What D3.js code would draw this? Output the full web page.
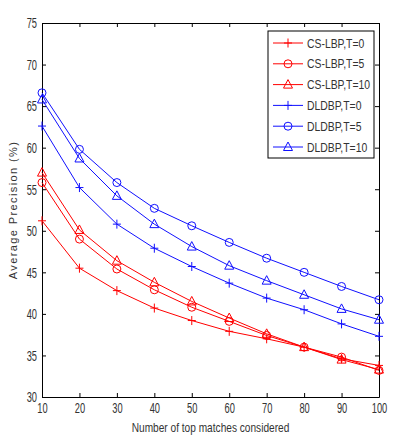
<!DOCTYPE html>
<html>
<head>
<meta charset="utf-8">
<script src="https://cdn.jsdelivr.net/npm/d3@7"></script>
<style>
  body { margin: 0; background: #fff; }
  svg text { font-family: "Liberation Sans", Arial, sans-serif; fill: #333; }
</style>
</head>
<body>
<svg id="chart" width="397" height="442"></svg>
<script>
// x values (number of top matches)
const topMatches = [10, 20, 30, 40, 50, 60, 70, 80, 90, 100];

// series values
const csLbpT0 = [51.2, 45.5, 42.8, 40.7, 39.2, 37.9, 37.0, 36.0, 34.6, 33.8];
const csLbpT5 = [55.8, 49.0, 45.4, 42.9, 40.8, 39.1, 37.4, 36.0, 34.8, 33.2];
const csLbpT10 = [57.0, 50.1, 46.4, 43.8, 41.5, 39.5, 37.6, 36.0, 34.5, 33.3];
const dldbpT0 = [62.6, 55.2, 50.8, 47.9, 45.7, 43.7, 41.9, 40.5, 38.8, 37.3];
const dldbpT5 = [66.6, 59.8, 55.8, 52.7, 50.6, 48.6, 46.7, 45.0, 43.3, 41.7];
const dldbpT10 = [65.8, 58.7, 54.2, 50.8, 48.1, 45.8, 44.0, 42.3, 40.6, 39.3];

const seriesNames = ['CS-LBP,T=0', 'CS-LBP,T=5', 'CS-LBP,T=10', 'DLDBP,T=0', 'DLDBP,T=5', 'DLDBP,T=10'];
const seriesValues = [csLbpT0, csLbpT5, csLbpT10, dldbpT0, dldbpT5, dldbpT10];
const seriesColors = ['#ff0000', '#ff0000', '#ff0000', '#1010ff', '#1010ff', '#1010ff'];
const seriesMarkers = ['plus', 'circle', 'triangle', 'plus', 'circle', 'triangle'];

const yTicks = [30, 35, 40, 45, 50, 55, 60, 65, 70, 75];

const svg = d3.select('#chart');

// Plot area in pixels
const margin = { top: 23, right: 18, bottom: 45, left: 42 };
const width = 397 - margin.left - margin.right;
const height = 442 - margin.top - margin.bottom;

// The original uses a narrow font, so squeeze text horizontally
const tickSquash = 0.62;
const legendSquash = 0.8;

const chart = svg.append('g')
  .attr('transform', `translate(${margin.left},${margin.top})`);

const xScale = d3.scaleLinear().domain([10, 100]).range([0, width]);
const yScale = d3.scaleLinear().domain([30, 75]).range([height, 0]);

// Axes with inward ticks, mirrored on top and right
const tickLen = 4;
const xAxis = d3.axisBottom(xScale).tickValues(topMatches).tickSizeInner(-tickLen).tickSizeOuter(0);
const yAxis = d3.axisLeft(yScale).tickValues(yTicks).tickSizeInner(-tickLen).tickSizeOuter(0);

chart.append('g')
  .attr('transform', `translate(0,${height})`)
  .call(xAxis)
  .selectAll('.tick text')
  .attr('y', 5)
  .attr('transform', `scale(${tickSquash},1)`);

chart.append('g')
  .call(yAxis)
  .selectAll('.tick text')
  .attr('x', -5 / tickSquash)
  .attr('transform', `scale(${tickSquash},1)`);

chart.append('g')
  .call(d3.axisTop(xScale).tickValues(topMatches).tickSizeInner(-tickLen).tickSizeOuter(0).tickFormat(''));
chart.append('g')
  .attr('transform', `translate(${width},0)`)
  .call(d3.axisRight(yScale).tickValues(yTicks).tickSizeInner(-tickLen).tickSizeOuter(0).tickFormat(''));

chart.selectAll('.domain').attr('stroke', '#000');
chart.selectAll('.tick line').attr('stroke', '#000');
chart.selectAll('.tick text').style('font-size', '15px').attr('fill', '#333');

// Axis titles
svg.append('text')
  .attr('transform', `translate(${margin.left + width / 2},432) scale(0.78,1)`)
  .attr('text-anchor', 'middle')
  .style('font-size', '13px')
  .text('Number of top matches considered');

svg.append('text')
  .attr('transform', 'rotate(-90)')
  .attr('x', -(margin.top + height / 2))
  .attr('y', 17)
  .attr('text-anchor', 'middle')
  .style('font-size', '11px')
  .style('letter-spacing', '1.4px')
  .text('Average Precision (%)');

// Marker drawing helper
function drawMarker(g, type, color) {
  if (type === 'plus') {
    g.append('path').attr('d', 'M-4,0H4M0,-4.5V4.5').attr('stroke', color).attr('fill', 'none');
  } else if (type === 'circle') {
    g.append('circle').attr('r', 4).attr('stroke', color).attr('fill', 'none');
  } else {
    g.append('path').attr('d', 'M0,-5L4.5,3.5H-4.5Z').attr('stroke', color).attr('fill', 'none');
  }
}

const line = d3.line()
  .x((d, i) => xScale(topMatches[i]))
  .y((d) => yScale(d));

seriesValues.forEach((vals, si) => {
  chart.append('path')
    .datum(vals)
    .attr('fill', 'none')
    .attr('stroke', seriesColors[si])
    .attr('stroke-width', 1)
    .attr('d', line);

  vals.forEach((v, i) => {
    const m = chart.append('g')
      .attr('transform', `translate(${xScale(topMatches[i])},${yScale(v)})`);
    drawMarker(m, seriesMarkers[si], seriesColors[si]);
  });
});

// Legend
const legend = svg.append('g').attr('transform', 'translate(268,31)');
legend.append('rect')
  .attr('width', 106)
  .attr('height', 127)
  .attr('fill', '#fff')
  .attr('stroke', '#000');

seriesNames.forEach((name, i) => {
  const row = legend.append('g').attr('transform', `translate(0,${12 + i * 20.8})`);
  row.append('line')
    .attr('x1', 5).attr('x2', 35)
    .attr('stroke', seriesColors[i]);
  drawMarker(row.append('g').attr('transform', 'translate(20,0)'), seriesMarkers[i], seriesColors[i]);
  row.append('text')
    .attr('transform', `translate(39,0) scale(${legendSquash},1)`)
    .attr('dy', '0.36em')
    .style('font-size', '13px')
    .text(name);
});
</script>
</body>
</html>
